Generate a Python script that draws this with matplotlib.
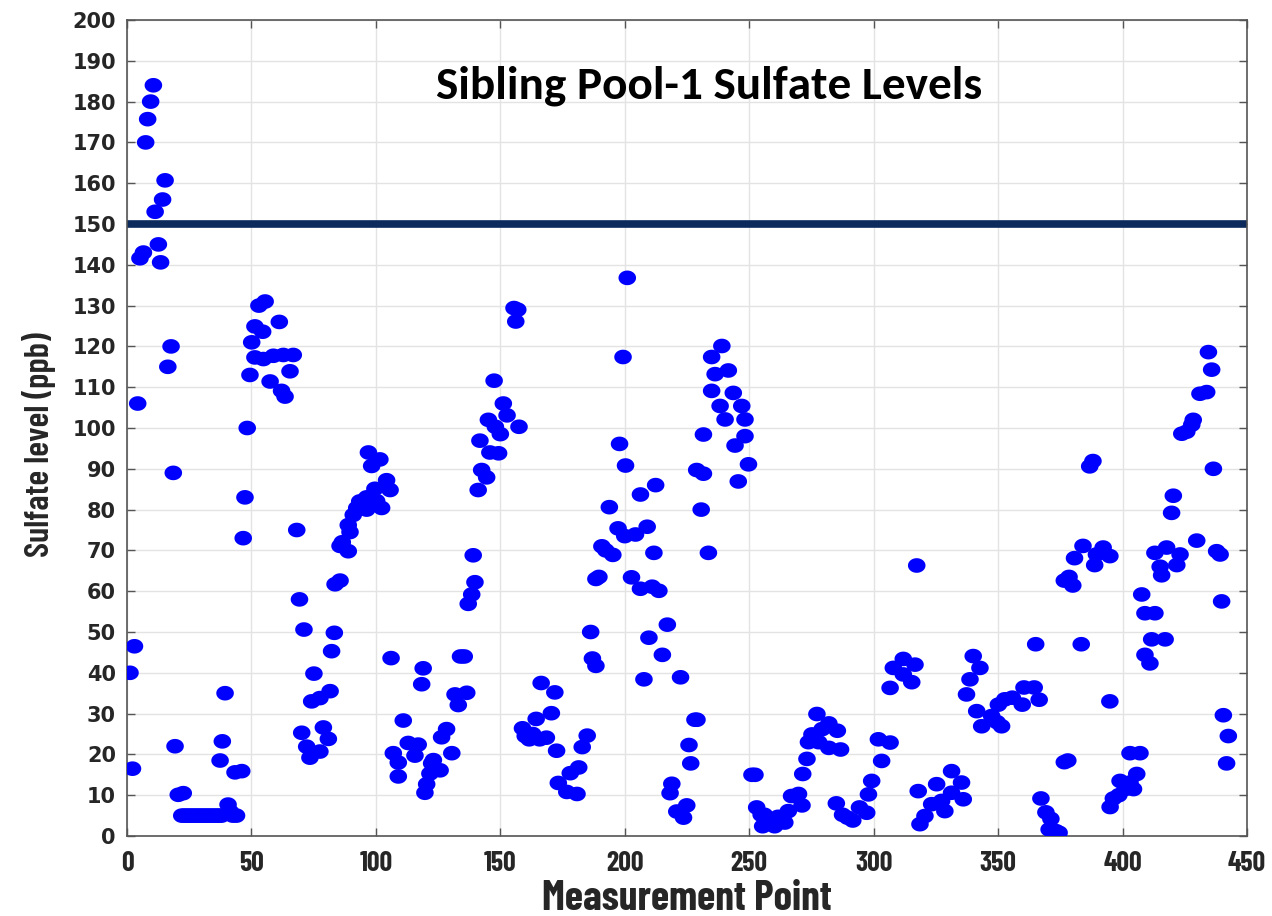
import numpy as np
import matplotlib
matplotlib.use("Agg")
import matplotlib.pyplot as plt
from matplotlib.path import Path

# ---- data ----
band_x = list(range(22, 39))
band_y = [5] * len(band_x)

xa = [1.2, 2.2, 3.0, 4.3, 5.2, 6.6, 7.5, 8.3, 9.5, 10.6, 11.3, 12.6, 13.5, 14.3, 15.3, 16.4, 17.7, 18.6, 19.3, 20.6, 22.6,
      37.4, 38.3, 39.4, 40.6, 41.5, 42.5, 44.0, 43.4, 46.1, 46.7, 47.4, 48.3, 49.4, 50.1, 51.4, 51.4, 53.0, 54.5, 54.8,
      55.5, 57.5, 58.8, 61.2, 62.1, 62.8, 63.5, 65.5, 66.8, 68.2, 69.3, 70.2, 71.1, 72.2, 73.5, 74.2, 75.1, 77.5, 77.5,
      78.9, 80.9, 81.6, 82.2, 83.3, 83.6, 85.6, 85.6, 86.5, 88.9, 88.9, 89.6, 90.9, 92.3, 93.5, 94.5, 96.3, 96.3, 97.0,
      98.3, 99.6, 100.3, 101.6, 102.3, 104.3, 105.7]
ya = [40, 16.5, 46.5, 106, 141.6, 143, 170, 175.7, 180, 184, 153, 145, 140.6, 156, 160.7, 115, 120, 89, 22, 10.1, 10.5,
      18.5, 23.2, 35, 7.7, 6, 5, 5, 15.6, 15.9, 73, 83, 100, 113, 121, 124.9, 117.3, 130, 123.6, 116.9,
      131, 111.4, 117.7, 126, 109.1, 117.9, 107.7, 113.9, 117.9, 75, 58, 25.3, 50.6, 21.9, 19.2, 33, 39.8, 33.8, 20.7,
      26.6, 23.8, 35.5, 45.3, 49.8, 61.7, 62.6, 71.1, 72, 76.2, 69.8, 74.5, 78.7, 80.4, 82, 81, 80, 83, 94,
      90.7, 85.1, 82.1, 92.3, 80.4, 87.2, 84.8]

xb = [106.1, 107.0, 109.0, 109.0, 111.0, 113.0, 115.7, 117.0, 118.4, 119.0, 119.7, 120.4, 121.7, 122.4, 123.1, 125.8,
      126.4, 128.4, 130.5, 131.8, 133.1, 134.0, 135.5, 136.5, 137.1, 138.5, 139.1, 139.8, 141.1, 141.8, 142.5, 144.5,
      145.2, 145.8, 147.5, 148.0, 149.3, 150.0, 151.2, 152.7, 155.5, 156.2, 157.0, 157.5]
yb = [43.6, 20.3, 18, 14.6, 28.3, 22.8, 19.7, 22.4, 37.2, 41.1, 10.6, 12.7, 15.3, 17.8, 18.6, 16.1,
      24.2, 26.2, 20.3, 34.7, 32.1, 44, 44, 35.1, 56.9, 59.2, 68.8, 62.2, 84.8, 96.9, 89.7, 87.9,
      102, 94, 111.6, 100.3, 93.8, 98.5, 106, 103.1, 129.4, 126.1, 129, 100.3]

xc = [158.9, 160.0, 161.6, 163.0, 164.4, 165.8, 166.4, 168.5, 170.5, 171.9, 172.6, 173.3, 176.7, 178.1, 180.8, 181.5,
      182.9, 184.9, 186.3, 187.0, 188.4, 188.4, 189.6, 190.8, 192.4, 193.8, 195.2, 197.3, 197.9, 199.3, 200.0, 200.3,
      201.0, 202.7]
yc = [26.4, 24.5, 23.7, 25, 28.7, 23.7, 37.5, 24.1, 30.1, 35.2, 20.9, 13, 10.8, 15.4, 10.3, 16.8,
      21.8, 24.6, 50, 43.5, 41.7, 63, 63.5, 71, 70, 80.6, 68.9, 75.4, 96.1, 117.4, 73.5, 90.8,
      136.8, 63.4]

xd = [204.3, 206.3, 206.3, 207.7, 209.0, 209.7, 211.0, 211.7, 212.4, 213.7, 215.1, 217.1, 218.2, 218.9, 220.9, 222.4,
      223.6, 224.9, 225.8, 226.5, 228.2, 229.0, 228.9, 230.7, 231.6, 231.6, 233.6, 234.9, 234.9, 236.3, 238.3, 239.0,
      240.3, 241.6, 243.6, 244.3, 245.6, 247.0, 248.3, 248.3, 249.7]
yd = [73.9, 83.7, 60.6, 38.4, 75.8, 48.6, 61.1, 69.4, 86, 60.1, 44.4, 51.8, 10.5, 12.8, 6, 38.9,
      4.5, 7.5, 22.3, 17.8, 28.5, 28.5, 89.7, 80, 88.8, 98.4, 69.4, 117.4, 109.1, 113.2, 105.4, 120.1,
      102.1, 114.1, 108.6, 95.7, 86.9, 105.4, 102.1, 98, 91.1]

xe = [251.1, 252.3, 253.0, 254.8, 255.4, 256.1, 258.9, 260.2, 261.6, 264.3, 265.7, 267.0, 269.8, 271.2, 271.5, 273.2,
      273.8, 275.2, 277.2, 277.9, 279.3, 282.0, 282.0, 285.4, 286.7, 285.0, 287.5, 289.5, 291.6, 294.3, 297.2, 297.9,
      299.2, 301.9, 303.2, 306.6, 306.6, 307.9, 311.9, 311.9, 315.3, 316.6, 317.3, 317.9, 318.6, 320.6, 323.3, 325.3,
      327.3, 328.6, 331.3, 331.3, 335.3, 336.0, 337.3, 338.7, 340.0, 341.4, 342.7, 343.4, 347.4, 349.6, 350.1, 351.4,
      352.7, 355.7, 359.7, 360.4, 364.5, 365.1, 366.5, 367.2, 369.2, 370.5, 371.2, 373.2, 374.5, 376.6, 378.0]
ye = [15, 15, 7, 5.2, 2.4, 5.2, 3.8, 2.4, 4.7, 3.3, 6.1, 9.8, 10.3, 7.5, 15.2, 18.9,
      23, 24.9, 29.9, 23, 26.2, 27.6, 21.6, 25.8, 21.2, 8, 5.2, 4.5, 3.8, 7, 5.7, 10.2,
      13.5, 23.7, 18.4, 22.9, 36.3, 41.2, 43.4, 39.6, 37.7, 42, 66.3, 11, 2.9, 4.9, 7.8, 12.7,
      8.6, 6.1, 15.9, 10.6, 13.1, 9, 34.7, 38.4, 44.1, 30.6, 41.2, 26.9, 29.4, 27.9, 32.2, 26.9,
      33.5, 33.9, 32.2, 36.4, 36.4, 47, 33.4, 9.2, 5.8, 1.6, 4.2, 1.2, 0.8, 18.1, 18.5]

xf = [376.6, 378.5, 380.0, 380.7, 383.4, 384.1, 386.8, 388.1, 388.8, 389.5, 392.2, 394.9, 394.9, 395.0, 396.3, 398.5,
      399.0, 401.0, 403.0, 403.0, 404.4, 405.7, 407.0, 407.7, 409.0, 409.0, 411.0, 411.7, 413.0, 413.0, 415.1, 415.7,
      417.1, 417.7, 419.7, 420.4, 421.8, 423.1, 423.8, 425.8, 427.8, 428.4, 429.8, 431.1, 433.8, 434.5, 435.8, 436.5,
      437.8, 439.2, 439.8, 440.5, 441.8, 442.5]
yf = [62.6, 63.5, 61.4, 68.1, 47, 71.1, 90.6, 91.9, 66.4, 69, 70.7, 68.6, 33, 7.1, 9.2, 10,
      13.5, 11.5, 13.1, 20.3, 11.5, 15.2, 20.3, 59.2, 54.6, 44.4, 42.3, 48.2, 54.6, 69.4, 66, 63.9,
      48.2, 70.7, 79.2, 83.4, 66.4, 69, 98.6, 99.1, 100.8, 102, 72.4, 108.4, 108.8, 118.6, 114.3, 90,
      69.8, 69, 57.5, 29.6, 17.8, 24.5]

limit_value = 150
title_text = "Sibling Pool-1 Sulfate Levels"
x_ticks = list(range(0, 451, 50))
y_ticks = list(range(0, 201, 10))

x = np.array(xa + band_x + xb + xc + xd + xe + xf, dtype=float)
y = np.array(ya + band_y + yb + yc + yd + ye + yf, dtype=float)

narrow = ["Barlow Condensed", "DejaVu Sans"]

fig = plt.figure(figsize=(12.72, 9.16), dpi=100)
ax = fig.add_axes([127 / 1272, 80 / 916, 1120 / 1272, 816 / 916])

# slightly wide elliptical marker (reference dots are stretched horizontally)
t = np.linspace(0, 2 * np.pi, 60)
ell = Path(np.column_stack([1.2 * np.cos(t), np.sin(t)]), closed=True)

ax.grid(True, color="#e3e3e3", linewidth=1.0, zorder=0)
ax.axhline(limit_value, color="#0c2a5c", linewidth=5.5, zorder=2)
ax.scatter(x, y, s=160, marker=ell, color="#0000ff", edgecolors="none", zorder=3)

ax.set_xlim(0, 450)
ax.set_ylim(0, 200)
ax.set_xticks(x_ticks)
ax.set_yticks(y_ticks)
ax.tick_params(direction="in", top=True, right=True, length=6, width=1, color="#555555")
for s in ax.spines.values():
    s.set_color("#555555")
    s.set_linewidth(1.2)

for lab in ax.get_yticklabels():
    lab.set_fontfamily("DejaVu Sans")
    lab.set_fontweight("bold")
    lab.set_fontsize(15)
    lab.set_color("#262626")
for lab in ax.get_xticklabels():
    lab.set_fontfamily(narrow)
    lab.set_fontweight("bold")
    lab.set_fontsize(20)
    lab.set_color("#262626")
ax.tick_params(axis="y", pad=8)
ax.tick_params(axis="x", pad=11)

ax.set_xlabel("Measurement Point", fontfamily=narrow, fontweight="bold", fontsize=30, color="#262626", labelpad=3)
ax.set_ylabel("Sulfate level (ppb)", fontfamily=narrow, fontweight="semibold", fontsize=25, color="#262626")
ax.yaxis.set_label_coords(-0.063, 0.48)

ax.text(0.52, 0.92, title_text, transform=ax.transAxes, ha="center", va="center",
        fontfamily=["Carlito", "DejaVu Sans"], fontweight="bold", fontsize=34, color="black", zorder=4)

fig.savefig("out.png", dpi=100)
